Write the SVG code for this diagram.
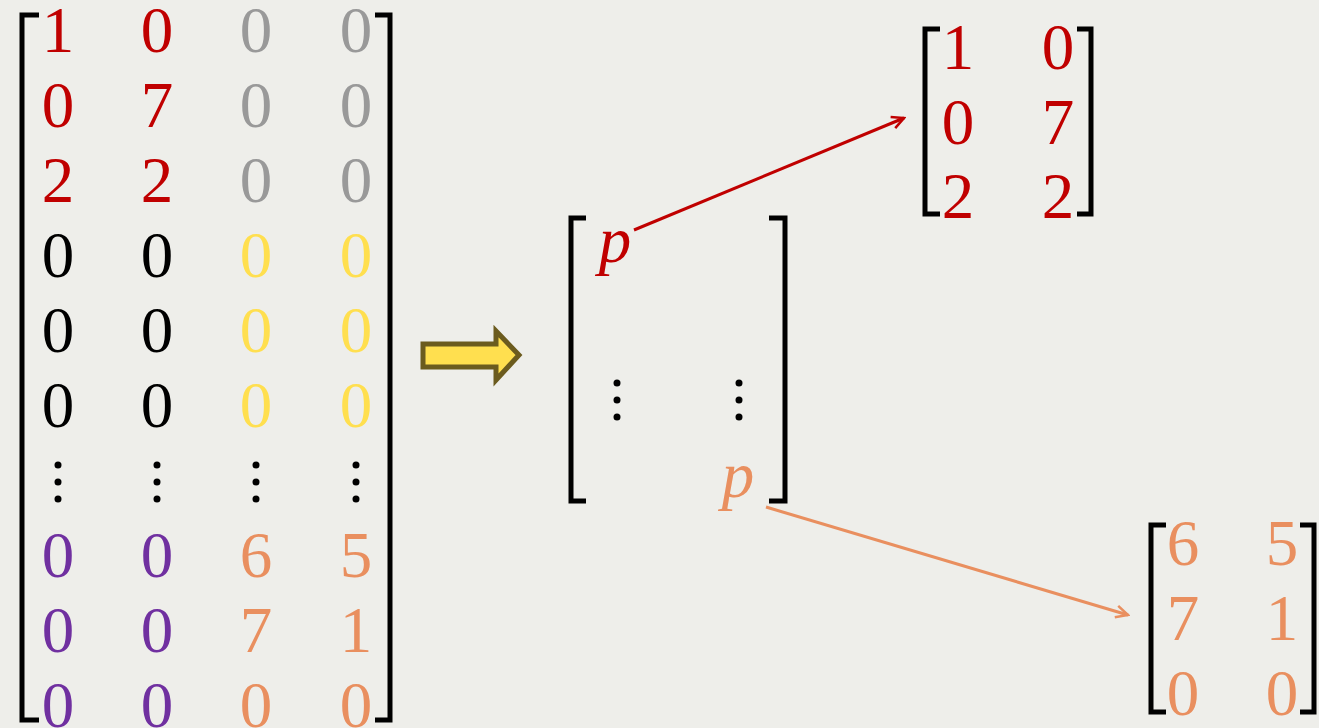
<svg xmlns="http://www.w3.org/2000/svg" width="1319" height="728" viewBox="0 0 1319 728">
<defs>
<style>
text{font-family:"Liberation Serif","DejaVu Serif",serif;font-size:65px;text-anchor:middle}
.r{fill:#C00000}.g{fill:#999999}.k{fill:#000}.y{fill:#FFDF4F}.v{fill:#7030A0}.o{fill:#E98F5F}
.br{fill:none;stroke:#000;stroke-width:5}
.it{font-style:italic}
</style>
<marker id="mr" markerWidth="16" markerHeight="16" refX="14" refY="8" orient="auto" markerUnits="userSpaceOnUse">
<polyline points="2,2 14,8 2,14" fill="none" stroke="#C00000" stroke-width="2.5"/>
</marker>
<marker id="mo" markerWidth="16" markerHeight="16" refX="14" refY="8" orient="auto" markerUnits="userSpaceOnUse">
<polyline points="2,2 14,8 2,14" fill="none" stroke="#E98F5F" stroke-width="2.5"/>
</marker>
<g id="dots"><circle cx="0" cy="-17" r="3.5"/><circle cx="0" cy="0" r="3.5"/><circle cx="0" cy="17" r="3.5"/></g>
</defs>
<rect width="1319" height="728" fill="#EEEEEA"/>
<g id="bigMatrix">
<path class="br" d="M39,15 H22 V720 H39 M375,15 H390 V720 H375"/>
<text x="58" y="52" class="r">1</text><text x="157" y="52" class="r">0</text><text x="256" y="52" class="g">0</text><text x="356" y="52" class="g">0</text>
<text x="58" y="127" class="r">0</text><text x="157" y="127" class="r">7</text><text x="256" y="127" class="g">0</text><text x="356" y="127" class="g">0</text>
<text x="58" y="202" class="r">2</text><text x="157" y="202" class="r">2</text><text x="256" y="202" class="g">0</text><text x="356" y="202" class="g">0</text>
<text x="58" y="277" class="k">0</text><text x="157" y="277" class="k">0</text><text x="256" y="277" class="y">0</text><text x="356" y="277" class="y">0</text>
<text x="58" y="352" class="k">0</text><text x="157" y="352" class="k">0</text><text x="256" y="352" class="y">0</text><text x="356" y="352" class="y">0</text>
<text x="58" y="427" class="k">0</text><text x="157" y="427" class="k">0</text><text x="256" y="427" class="y">0</text><text x="356" y="427" class="y">0</text>
<use href="#dots" x="58" y="482"/><use href="#dots" x="157" y="482"/><use href="#dots" x="256" y="482"/><use href="#dots" x="356" y="482"/>
<text x="58" y="577" class="v">0</text><text x="157" y="577" class="v">0</text><text x="256" y="577" class="o">6</text><text x="356" y="577" class="o">5</text>
<text x="58" y="652" class="v">0</text><text x="157" y="652" class="v">0</text><text x="256" y="652" class="o">7</text><text x="356" y="652" class="o">1</text>
<text x="58" y="727" class="v">0</text><text x="157" y="727" class="v">0</text><text x="256" y="727" class="o">0</text><text x="356" y="727" class="o">0</text>
</g>
<g id="blockArrow">
<polygon points="423,344 496,344 496,331 519,355 496,380 496,367 423,367" fill="#FFDF4F" stroke="#6B5B1E" stroke-width="5" stroke-linejoin="miter"/>
</g>
<g id="midMatrix">
<path class="br" d="M586,218 H571 V501 H586 M769,218 H785 V501 H769"/>
<text x="615" y="262" class="r it">p</text>
<use href="#dots" x="617" y="400"/><use href="#dots" x="739" y="400"/>
<text x="738" y="497" class="o it">p</text>
</g>
<g id="topMatrix">
<path class="br" d="M940,29 H925 V214 H940 M1077,29 H1091 V214 H1077"/>
<text x="958" y="69" class="r">1</text><text x="1058" y="69" class="r">0</text>
<text x="958" y="144" class="r">0</text><text x="1058" y="144" class="r">7</text>
<text x="958" y="218" class="r">2</text><text x="1058" y="218" class="r">2</text>
</g>
<g id="bottomMatrix">
<path class="br" d="M1166,525 H1151 V712 H1166 M1300,525 H1314 V712 H1300"/>
<text x="1183" y="565" class="o">6</text><text x="1282" y="565" class="o">5</text>
<text x="1183" y="640" class="o">7</text><text x="1282" y="640" class="o">1</text>
<text x="1183" y="715" class="o">0</text><text x="1282" y="715" class="o">0</text>
</g>
<g id="connectors">
<line x1="634" y1="230" x2="904" y2="118" stroke="#C00000" stroke-width="3" marker-end="url(#mr)"/>
<line x1="766" y1="507" x2="1128" y2="615" stroke="#E98F5F" stroke-width="3" marker-end="url(#mo)"/>
</g>
</svg>
